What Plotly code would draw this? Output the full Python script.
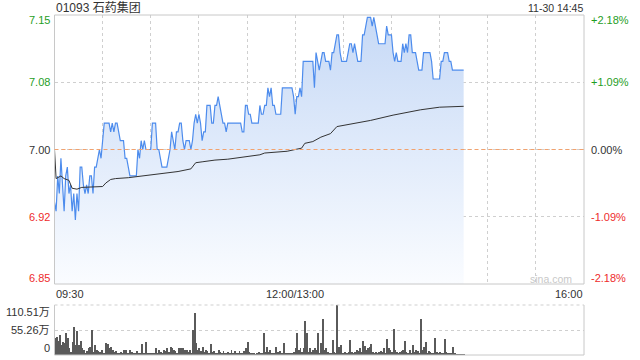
import plotly.graph_objects as go

# ---------------- data ----------------
title_text = "01093 石药集团"
stamp_text = "11-30 14:45"
prev_close = 7.00
pct_limit = 2.18          # percent shown at top / bottom of price axis
pct_mid = 1.09            # percent of inner grid lines

left_tick_labels = ["7.15", "7.08", "7.00", "6.92", "6.85"]
right_tick_labels = ["+2.18%", "+1.09%", "0.00%", "-1.09%", "-2.18%"]
vol_tick_labels = ["110.51万", "55.26万", "0"]
vol_tick_values = [110.51, 55.26, 0]
time_labels = ["09:30", "12:00/13:00", "16:00"]
session_minutes = 330     # 09:30-12:00 + 13:00-16:00
lunch_minute = 150

# one price per trading minute from 09:30 (lunch removed), up to 14:45
price = [
    6.94, 6.93, 6.97, 6.95, 6.99, 6.96, 6.93, 6.97, 6.98, 6.95,
    6.96, 6.93, 6.95, 6.92, 6.95, 6.93, 6.98, 6.98, 6.96, 6.95,
    6.96, 6.95, 6.97, 6.97, 6.95, 6.98, 6.98, 6.99, 7.00, 6.99,
    7.01, 7.03, 7.03, 7.03, 7.03, 7.02, 7.03, 7.02, 7.03, 7.03,
    7.02, 7.01, 7.01, 7.01, 6.99, 6.99, 6.98, 6.97, 6.97, 6.97,
    6.97, 6.97, 7.00, 6.99, 7.01, 7.00, 7.01, 7.00, 7.00, 7.00,
    7.00, 7.03, 7.03, 7.03, 7.00, 7.00, 6.99, 6.98, 6.98, 6.98,
    6.98, 6.99, 7.00, 7.02, 7.01, 7.00, 7.02, 7.02, 7.03, 7.03,
    7.01, 7.00, 7.01, 7.01, 7.01, 7.00, 7.01, 7.03, 7.04, 7.03,
    7.04, 7.03, 7.01, 7.02, 7.02, 7.05, 7.05, 7.05, 7.03, 7.03,
    7.05, 7.05, 7.06, 7.05, 7.04, 7.03, 7.03, 7.02, 7.03, 7.03,
    7.03, 7.03, 7.03, 7.03, 7.03, 7.03, 7.03, 7.02, 7.02, 7.05,
    7.05, 7.04, 7.04, 7.03, 7.03, 7.03, 7.03, 7.03, 7.05, 7.04,
    7.04, 7.05, 7.05, 7.07, 7.06, 7.07, 7.05, 7.05, 7.04, 7.04,
    7.04, 7.04, 7.07, 7.07, 7.07, 7.07, 7.07, 7.07, 7.07, 7.06,
    7.04, 7.06, 7.06, 7.07, 7.06, 7.10, 7.10, 7.10, 7.10, 7.10,
    7.10, 7.10, 7.07, 7.11, 7.10, 7.09, 7.10, 7.11, 7.11, 7.10,
    7.10, 7.10, 7.09, 7.11, 7.11, 7.12, 7.13, 7.13, 7.11, 7.10,
    7.10, 7.10, 7.10, 7.11, 7.12, 7.12, 7.11, 7.12, 7.11, 7.10,
    7.10, 7.10, 7.13, 7.13, 7.14, 7.15, 7.15, 7.15, 7.14, 7.15,
    7.14, 7.13, 7.12, 7.12, 7.12, 7.12, 7.12, 7.14, 7.13, 7.13,
    7.13, 7.11, 7.10, 7.11, 7.10, 7.10, 7.10, 7.12, 7.11, 7.12,
    7.11, 7.13, 7.13, 7.11, 7.11, 7.11, 7.10, 7.09, 7.09, 7.09,
    7.11, 7.11, 7.11, 7.11, 7.11, 7.10, 7.08, 7.08, 7.08, 7.08,
    7.08, 7.10, 7.10, 7.11, 7.11, 7.11, 7.10, 7.10, 7.09, 7.09,
    7.09, 7.09, 7.09, 7.09, 7.09, 7.09,
]

# average price line (minute, value)
avg_minutes = [0, 1, 4, 6, 9, 10, 11, 14, 17, 30, 32, 35, 38, 46, 55, 65, 77, 85, 88,
               92, 100, 108, 119, 128, 131, 145, 150, 154, 156, 161, 166, 172, 176, 182,
               190, 197, 211, 220, 228, 240, 255]
avg_values = [7.000, 6.967, 6.970, 6.967, 6.965, 6.960, 6.956, 6.955, 6.957, 6.958, 6.962,
              6.966, 6.967, 6.968, 6.970, 6.972, 6.975, 6.978, 6.985, 6.986, 6.988, 6.989,
              6.992, 6.994, 6.996, 6.998, 7.000, 7.0015, 7.007, 7.009, 7.014, 7.018, 7.026,
              7.028, 7.030, 7.033, 7.039, 7.042, 7.045, 7.048, 7.049]

# volume per minute, in 万
volume = [
    37, 39, 30, 44, 22, 29, 27, 49, 38, 15,
    7, 29, 63, 22, 52, 22, 31, 15, 11, 5,
    9, 15, 18, 55, 7, 22, 11, 9, 7, 11,
    4, 3, 27, 24, 15, 18, 11, 7, 9, 5,
    4, 7, 3, 11, 11, 5, 3, 11, 7, 5,
    3, 9, 3, 3, 24, 4, 3, 29, 4, 3,
    5, 3, 4, 15, 5, 11, 7, 3, 11, 9,
    15, 7, 18, 15, 11, 9, 3, 15, 15, 15,
    15, 11, 12, 7, 11, 3, 55, 92, 26, 11,
    15, 9, 18, 7, 11, 9, 3, 24, 7, 9,
    5, 3, 11, 7, 5, 9, 5, 3, 7, 5,
    11, 3, 9, 5, 3, 9, 4, 3, 9, 15,
    29, 7, 5, 3, 4, 2, 4, 7, 3, 3,
    49, 7, 18, 7, 11, 5, 3, 3, 18, 7,
    9, 5, 3, 26, 5, 3, 5, 3, 4, 7,
    15, 48, 11, 15, 7, 15, 75, 48, 7, 15,
    7, 11, 15, 11, 49, 5, 26, 79, 11, 15,
    7, 5, 3, 33, 7, 5, 110.51, 18, 22, 5,
    4, 7, 5, 7, 33, 7, 5, 7, 11, 9,
    15, 7, 31, 20, 11, 15, 18, 24, 7, 5,
    7, 4, 7, 9, 7, 15, 3, 35, 15, 10,
    7, 57, 11, 7, 5, 7, 9, 11, 31, 7,
    5, 11, 5, 22, 7, 11, 9, 3, 80, 11,
    18, 29, 5, 9, 7, 5, 4, 37, 7, 5,
    7, 5, 3, 35, 7, 5, 4, 4, 18, 4,
    2, 2, 2, 2, 2, 2,
]

# ---------------- derived ----------------
minutes = list(range(len(price)))
vol_minutes = list(range(len(volume)))
ymax = prev_close * (1 + pct_limit / 100)
ymin = prev_close * (1 - pct_limit / 100)
yhi = prev_close * (1 + pct_mid / 100)
ylo = prev_close * (1 - pct_mid / 100)
price_ticks = [ymax, yhi, prev_close, ylo, ymin]

W, H = 640, 360
X0, X1 = 54.5, 584.0
MAIN_T, MAIN_B = 15.0, 284.0
VOL_T, VOL_B = 305.0, 355.0

def px(x):
    return x / W

def py(y):
    return 1 - y / H

GREEN = "#1f9e1f"
RED = "#ee2c2c"
DARK = "#333333"
GRID = "#cfcfcf"
BORDER = "#c8c8c8"
FONT = "Liberation Sans, Arial, Noto Sans CJK SC, sans-serif"

fig = go.Figure()

fig.add_trace(go.Scatter(x=minutes, y=[ymin] * len(minutes), mode="lines",
                         line=dict(width=0, color="rgba(0,0,0,0)"),
                         hoverinfo="skip", showlegend=False, xaxis="x", yaxis="y"))
fig.add_trace(go.Scatter(x=minutes, y=price, mode="lines", fill="tonexty",
                         fillgradient=dict(type="vertical",
                                           colorscale=[[0, "rgb(250,252,255)"],
                                                       [1, "rgb(198,217,246)"]],
                                           start=ymin, stop=ymax),
                         line=dict(color="#4d8ced", width=1.2),
                         showlegend=False, xaxis="x", yaxis="y"))
fig.add_trace(go.Scatter(x=avg_minutes, y=avg_values, mode="lines",
                         line=dict(color="#333333", width=1),
                         showlegend=False, xaxis="x", yaxis="y"))
fig.add_trace(go.Bar(x=vol_minutes, y=volume, width=0.6,
                     marker=dict(color="#5a5a5a", line=dict(width=0)),
                     showlegend=False, xaxis="x2", yaxis="y2"))

grid_x = list(range(30, session_minutes, 30))

fig.update_layout(
    width=W, height=H,
    margin=dict(l=0, r=0, t=0, b=0),
    paper_bgcolor="white", plot_bgcolor="white",
    font=dict(family=FONT, size=11, color=DARK),
    xaxis=dict(domain=[px(X0), px(X1)], range=[0, session_minutes],
               tickvals=grid_x, showticklabels=False, showgrid=True,
               gridcolor=GRID, griddash="dot", gridwidth=1, zeroline=False,
               showline=False, ticks="", anchor="y"),
    yaxis=dict(domain=[py(MAIN_B), py(MAIN_T)], range=[ymin, ymax],
               tickvals=[yhi, prev_close, ylo], showticklabels=False,
               showgrid=True, gridcolor=GRID, griddash="dot", zeroline=False,
               showline=False, ticks="", anchor="x"),
    xaxis2=dict(domain=[px(X0), px(X1)], range=[0, session_minutes],
                showticklabels=False, showgrid=False, zeroline=False,
                showline=False, ticks="", anchor="y2"),
    yaxis2=dict(domain=[py(VOL_B), py(VOL_T)], range=[0, vol_tick_values[0]],
                tickvals=[vol_tick_values[1]], showticklabels=False,
                showgrid=True, gridcolor=GRID, griddash="dot", zeroline=False,
                showline=False, ticks="", anchor="x2"),
    bargap=0,
)

shapes = [
    # main panel border
    dict(type="rect", xref="x domain", yref="y domain", x0=0, x1=1, y0=0, y1=1,
         line=dict(color=BORDER, width=1), layer="above"),
    # previous-close dashed line
    dict(type="line", xref="x domain", yref="y", x0=0, x1=1, y0=prev_close, y1=prev_close,
         line=dict(color="#f2a26e", width=1, dash="4px,3px"), layer="above"),
    # volume panel border
    dict(type="line", xref="x2 domain", yref="y2 domain", x0=0, x1=0, y0=0, y1=1,
         line=dict(color=BORDER, width=1)),
    dict(type="line", xref="x2 domain", yref="y2 domain", x0=1, x1=1, y0=0, y1=1,
         line=dict(color=BORDER, width=1)),
    dict(type="line", xref="x2 domain", yref="y2 domain", x0=0, x1=1, y0=0, y1=0,
         line=dict(color=BORDER, width=1)),
    dict(type="line", xref="x2 domain", yref="y2 domain", x0=0, x1=1, y0=1, y1=1,
         line=dict(color=GRID, width=1, dash="dot")),
]
fig.update_layout(shapes=shapes)

ann = []
label_colors = [GREEN, GREEN, DARK, RED, RED]
label_shift = [-5, 0, 0, 0, 6.5]
for val, ltxt, rtxt, col, sh in zip(price_ticks, left_tick_labels, right_tick_labels,
                                     label_colors, label_shift):
    ann.append(dict(xref="paper", yref="y", x=px(52), y=val, yshift=sh, text=ltxt,
                    xanchor="right", yanchor="middle", showarrow=False,
                    font=dict(color=col, size=11)))
    ann.append(dict(xref="paper", yref="y", x=px(589), y=val, yshift=sh, text=rtxt,
                    xanchor="left", yanchor="middle", showarrow=False,
                    font=dict(color=col, size=11)))

vol_shift = [-7, 0, 7]
for val, txt, sh in zip(vol_tick_values, vol_tick_labels, vol_shift):
    ann.append(dict(xref="paper", yref="y2", x=px(52), y=val, yshift=sh, text=txt,
                    xanchor="right", yanchor="middle", showarrow=False,
                    font=dict(color=DARK, size=11)))

ann.append(dict(xref="x", yref="paper", x=0, y=py(293.5), text=time_labels[0],
                xanchor="left", yanchor="middle", showarrow=False, xshift=-1,
                font=dict(size=11, color=DARK)))
ann.append(dict(xref="x", yref="paper", x=lunch_minute, y=py(293.5), text=time_labels[1],
                xanchor="center", yanchor="middle", showarrow=False,
                font=dict(size=11, color=DARK)))
ann.append(dict(xref="x", yref="paper", x=session_minutes, y=py(293.5), text=time_labels[2],
                xanchor="right", yanchor="middle", showarrow=False, xshift=1,
                font=dict(size=11, color=DARK)))

ann.append(dict(xref="paper", yref="paper", x=px(54), y=py(7.5), text=title_text,
                xanchor="left", yanchor="middle", showarrow=False,
                font=dict(size=12, color=DARK)))
ann.append(dict(xref="paper", yref="paper", x=px(585), y=py(8), text=stamp_text,
                xanchor="right", yanchor="middle", showarrow=False,
                font=dict(size=10.5, color=DARK)))
ann.append(dict(xref="paper", yref="paper", x=px(574), y=py(279), text="sina.com",
                xanchor="right", yanchor="middle", showarrow=False,
                font=dict(size=10.5, color="#c8c8c8")))

fig.update_layout(annotations=ann)

fig.write_html(
    "out.html",
    config={"displayModeBar": False},
    post_script="document.body.style.margin='0';document.body.style.overflow='hidden';",
)
